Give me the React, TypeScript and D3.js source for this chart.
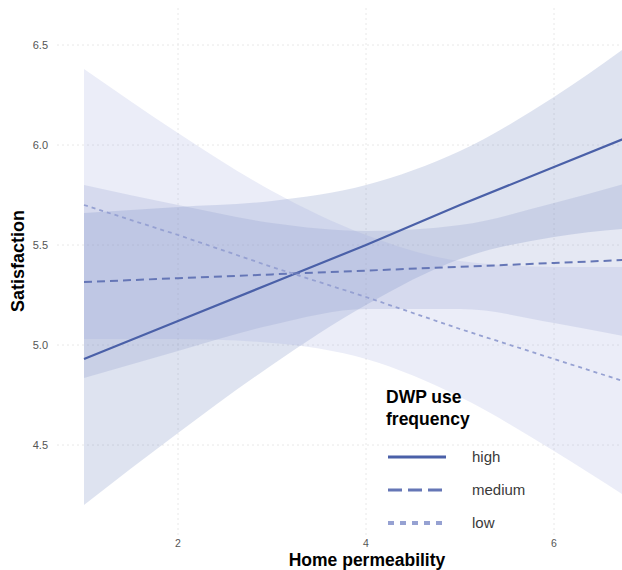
import * as d3 from 'd3';
import React from 'react';

// home permeability positions the fits were sampled at
const xs = [1, 2, 3, 4, 5, 6, 7];

// fitted satisfaction + confidence band per DWP use group
const highFit = [4.93, 5.12, 5.31, 5.5, 5.7, 5.89, 6.08];
const highLo = [4.2, 4.56, 4.9, 5.2, 5.43, 5.54, 5.59];
const highHi = [5.66, 5.69, 5.72, 5.8, 5.97, 6.24, 6.57];

const mediumFit = [5.315, 5.334, 5.353, 5.372, 5.391, 5.41, 5.43];
const mediumLo = [4.835, 4.97, 5.1, 5.18, 5.18, 5.11, 5.02];
const mediumHi = [5.8, 5.7, 5.61, 5.57, 5.6, 5.71, 5.84];

const lowFit = [5.7, 5.55, 5.39, 5.24, 5.08, 4.93, 4.78];
const lowLo = [5.03, 5.03, 5.01, 4.93, 4.74, 4.47, 4.17];
const lowHi = [6.38, 6.06, 5.77, 5.55, 5.42, 5.39, 5.39];

const groups = ['high', 'medium', 'low'];
const xTicks = [2, 4, 6];
const yTicks = [4.5, 5.0, 5.5, 6.0, 6.5];

const W = 622;
const H = 570;
const font = '"Liberation Sans", Arial, sans-serif';

const styles = {
    high: { color: '#4a60a8', fill: '#3d56a6', op: 0.17, dash: null, w: 2.2 },
    medium: { color: '#6576b6', fill: '#6576b6', op: 0.17, dash: '8,5', w: 2 },
    low: { color: '#96a1d2', fill: '#9aa6dc', op: 0.2, dash: '4,4', w: 1.8 },
};

export default function App() {
    const x = d3.scaleLinear().domain([2, 6]).range([178, 554]);
    const y = d3.scaleLinear().domain([4.5, 6.5]).range([445, 45]);

    const series = {
        high: { fit: highFit, lo: highLo, hi: highHi },
        medium: { fit: mediumFit, lo: mediumLo, hi: mediumHi },
        low: { fit: lowFit, lo: lowLo, hi: lowHi },
    };

    const area = d3.area<number>()
        .x((d, i) => x(xs[i]))
        .curve(d3.curveMonotoneX);
    const line = d3.line<number>()
        .x((d, i) => x(xs[i]))
        .y(d => y(d));

    const panelLeft = 57;
    const panelTop = 8;
    const panelBottom = 536;

    return (
        <svg width={W} height={H} style={{ position: 'absolute', left: 0, top: 0, background: '#fff' }} fontFamily={font}>
            {/* grid */}
            {yTicks.map(t => (
                <line key={'gy' + t} x1={panelLeft} x2={W} y1={y(t)} y2={y(t)}
                    stroke="#e8e8e8" strokeWidth={1} strokeDasharray="2,3" />
            ))}
            {xTicks.map(t => (
                <line key={'gx' + t} x1={x(t)} x2={x(t)} y1={panelTop} y2={panelBottom}
                    stroke="#e8e8e8" strokeWidth={1} strokeDasharray="2,3" />
            ))}

            {/* ribbons */}
            {groups.map(g => {
                const s = series[g];
                const a = area.y0((d, i) => y(s.lo[i])).y1((d, i) => y(s.hi[i]));
                return <path key={'r' + g} d={a(s.fit) || ''} fill={styles[g].fill} fillOpacity={styles[g].op} />;
            })}

            {/* fitted lines */}
            {groups.map(g => (
                <path key={'l' + g} d={line(series[g].fit) || ''} fill="none"
                    stroke={styles[g].color} strokeWidth={styles[g].w}
                    strokeDasharray={styles[g].dash || undefined} />
            ))}

            {/* axis labels */}
            {yTicks.map(t => (
                <text key={'ty' + t} x={48} y={y(t)} dy="0.35em" textAnchor="end"
                    fontSize={11} fill="#555">{t.toFixed(1)}</text>
            ))}
            {xTicks.map(t => (
                <text key={'tx' + t} x={x(t)} y={547} textAnchor="middle"
                    fontSize={10.5} fill="#555">{t}</text>
            ))}
            <text x={367} y={566} textAnchor="middle" fontSize={17.5} fontWeight="bold" fill="#000">Home permeability</text>
            <text transform="translate(24,261) rotate(-90)" textAnchor="middle" fontSize={18} fontWeight="bold" fill="#000">Satisfaction</text>

            {/* legend */}
            <text x={386} y={403} fontSize={17.5} fontWeight="bold" fill="#000">DWP use</text>
            <text x={386} y={425} fontSize={17.5} fontWeight="bold" fill="#000">frequency</text>
            {groups.map((g, i) => {
                const ly = 457 + i * 33;
                return (
                    <g key={'lg' + g}>
                        <line x1={388} x2={446} y1={ly} y2={ly} stroke={styles[g].color}
                            strokeWidth={g === 'low' ? 4 : 3}
                            strokeDasharray={g === 'medium' ? '14,6' : g === 'low' ? '6,6' : undefined} />
                        <text x={472} y={ly} dy="0.35em" fontSize={15} fill="#3a3a3a">{g}</text>
                    </g>
                );
            })}
        </svg>
    );
}
